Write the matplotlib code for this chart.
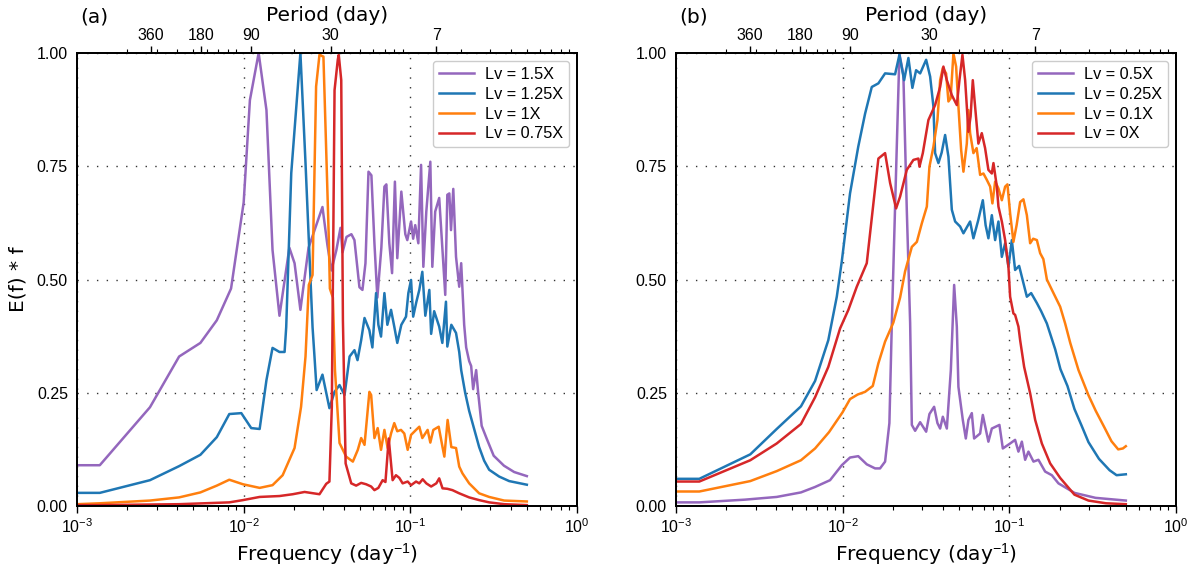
#!/usr/bin/env python3
# -*- coding: utf-8 -*-

import numpy as np
import matplotlib
matplotlib.use("Agg")
import matplotlib.pyplot as plt
from matplotlib.ticker import FormatStrFormatter

# ─── 1) Data (read off the spectra) ──────────────────────────────────────────
# panel (a)
freq_a_150 = [0.001, 0.00137, 0.00274, 0.0041, 0.0055, 0.0069, 0.0084, 0.0100, 0.0109, 0.0123,
              0.0137, 0.0149, 0.0164, 0.0188, 0.0202, 0.0219, 0.0245, 0.0297, 0.0318, 0.0336,
              0.0360, 0.0381, 0.0392, 0.0414, 0.0443, 0.0462, 0.0495, 0.0516, 0.0538, 0.0561,
              0.0584, 0.0609, 0.0634, 0.0670, 0.0699, 0.0718, 0.0748, 0.0777, 0.0808, 0.0835,
              0.0883, 0.0933, 0.0959, 0.101, 0.104, 0.107, 0.1117, 0.116, 0.1197, 0.1247,
              0.1318, 0.1355, 0.141, 0.149, 0.1556, 0.162, 0.1667, 0.1714, 0.1754, 0.181,
              0.188, 0.1965, 0.2019, 0.2104, 0.2163, 0.2254, 0.2317, 0.2382, 0.2483, 0.2553,
              0.2679, 0.2877, 0.3163, 0.3645, 0.4198, 0.5]
ef_a_150 = [0.09, 0.09, 0.218, 0.33, 0.36, 0.41, 0.48, 0.67, 0.896, 1.0,
            0.874, 0.565, 0.42, 0.57, 0.536, 0.433, 0.57, 0.66, 0.576, 0.52,
            0.565, 0.614, 0.56, 0.594, 0.60, 0.587, 0.483, 0.477, 0.536, 0.738,
            0.73, 0.58, 0.46, 0.57, 0.705, 0.71, 0.58, 0.514, 0.716, 0.547,
            0.694, 0.60, 0.587, 0.628, 0.59, 0.62, 0.58, 0.753, 0.528, 0.65,
            0.76, 0.528, 0.65, 0.68, 0.57, 0.466, 0.687, 0.69, 0.609, 0.70,
            0.55, 0.484, 0.536, 0.40, 0.35, 0.32, 0.309, 0.258, 0.30, 0.25,
            0.177, 0.148, 0.111, 0.089, 0.075, 0.066]

freq_a_125 = [0.001, 0.00137, 0.00274, 0.0041, 0.0055, 0.0069, 0.0082, 0.00968, 0.0111, 0.01247,
              0.0137, 0.0149, 0.0164, 0.0176, 0.0180, 0.0193, 0.0219, 0.0235, 0.0259, 0.0266,
              0.0274, 0.0297, 0.0327, 0.0351, 0.0376, 0.0403, 0.0432, 0.0462, 0.0482, 0.0507,
              0.0531, 0.0568, 0.0592, 0.0623, 0.0643, 0.0667, 0.0699, 0.0728, 0.0766, 0.0801,
              0.0835, 0.0883, 0.0942, 0.0973, 0.101, 0.104, 0.1086, 0.1132, 0.118, 0.123,
              0.130, 0.1333, 0.139, 0.149, 0.1556, 0.1636, 0.1667, 0.1762, 0.188, 0.1965,
              0.2019, 0.2133, 0.2254, 0.2415, 0.2588, 0.2773, 0.2972, 0.3412, 0.3917, 0.5]
ef_a_125 = [0.029, 0.029, 0.057, 0.088, 0.113, 0.152, 0.203, 0.205, 0.172, 0.17,
            0.278, 0.349, 0.34, 0.34, 0.395, 0.735, 1.0, 0.757, 0.395, 0.33,
            0.256, 0.29, 0.216, 0.252, 0.267, 0.245, 0.33, 0.344, 0.322, 0.366,
            0.415, 0.388, 0.35, 0.47, 0.40, 0.374, 0.47, 0.40, 0.433, 0.396,
            0.36, 0.40, 0.418, 0.47, 0.499, 0.418, 0.45, 0.477, 0.517, 0.42,
            0.477, 0.38, 0.43, 0.396, 0.36, 0.451, 0.352, 0.40, 0.382, 0.34,
            0.30, 0.25, 0.21, 0.17, 0.13, 0.10, 0.08, 0.065, 0.055, 0.047]

freq_a_100 = [0.001, 0.00137, 0.00274, 0.0041, 0.0055, 0.0069, 0.0082, 0.0099, 0.01247, 0.0149,
              0.01714, 0.0202, 0.0221, 0.0235, 0.0246, 0.0259, 0.0272, 0.0285, 0.0301, 0.0324,
              0.0329, 0.0343, 0.0353, 0.0376, 0.0412, 0.0452, 0.0484, 0.0507, 0.0531, 0.0568,
              0.0582, 0.0609, 0.0637, 0.0667, 0.0699, 0.0731, 0.0766, 0.0801, 0.0835, 0.0879,
              0.092, 0.0964, 0.101, 0.1082, 0.1132, 0.118, 0.127, 0.1318, 0.1374, 0.148,
              0.156, 0.160, 0.1674, 0.1762, 0.188, 0.1965, 0.2055, 0.2254, 0.2588, 0.2972,
              0.3656, 0.5]
ef_a_100 = [0.004, 0.006, 0.012, 0.019, 0.03, 0.045, 0.058, 0.048, 0.04, 0.046,
            0.068, 0.128, 0.219, 0.33, 0.488, 0.51, 0.926, 0.996, 0.992, 0.594,
            0.48, 0.46, 0.30, 0.139, 0.109, 0.098, 0.124, 0.15, 0.135, 0.252,
            0.245, 0.15, 0.172, 0.124, 0.168, 0.128, 0.16, 0.183, 0.165, 0.168,
            0.16, 0.124, 0.157, 0.168, 0.175, 0.15, 0.168, 0.14, 0.168, 0.175,
            0.13, 0.109, 0.19, 0.13, 0.128, 0.087, 0.072, 0.05, 0.028, 0.02,
            0.012, 0.01]

freq_a_075 = [0.001, 0.00137, 0.0041, 0.0082, 0.0099, 0.01247, 0.0164, 0.0197, 0.0232, 0.0285,
              0.0313, 0.0327, 0.0338, 0.0351, 0.0367, 0.0372, 0.0385, 0.0394, 0.0409, 0.0442,
              0.0473, 0.0507, 0.0543, 0.0582, 0.0609, 0.0643, 0.0682, 0.0709, 0.0742, 0.0766,
              0.0783, 0.082, 0.0859, 0.0899, 0.0964, 0.101, 0.1082, 0.1132, 0.1186, 0.1247,
              0.1333, 0.1432, 0.149, 0.156, 0.1667, 0.179, 0.1965, 0.2254, 0.2588, 0.2972,
              0.3656, 0.5]
ef_a_075 = [0.002, 0.002, 0.004, 0.008, 0.013, 0.02, 0.022, 0.026, 0.031, 0.026,
            0.049, 0.054, 0.219, 0.918, 0.985, 0.996, 0.94, 0.41, 0.094, 0.05,
            0.045, 0.051, 0.048, 0.043, 0.035, 0.04, 0.057, 0.053, 0.149, 0.094,
            0.057, 0.068, 0.062, 0.05, 0.054, 0.046, 0.054, 0.05, 0.059, 0.05,
            0.043, 0.05, 0.061, 0.039, 0.038, 0.035, 0.028, 0.019, 0.013, 0.008,
            0.004, 0.002]

# panel (b)
freq_b_050 = [0.001, 0.00138, 0.00259, 0.00402, 0.00562, 0.00683, 0.0084, 0.00988, 0.01107, 0.0124,
              0.01395, 0.01565, 0.01676, 0.01797, 0.01907, 0.0197, 0.02063, 0.0219, 0.02313, 0.02425,
              0.0254, 0.026, 0.02721, 0.02916, 0.03169, 0.03316, 0.03538, 0.03704, 0.03844, 0.0399,
              0.04217, 0.04457, 0.04665, 0.04841, 0.04949, 0.05258, 0.05481, 0.05682, 0.05955, 0.06148,
              0.06679, 0.06933, 0.07489, 0.07852, 0.0872, 0.0914, 0.1011, 0.1083, 0.1134, 0.1189,
              0.1244, 0.1302, 0.1396, 0.1495, 0.164, 0.1799, 0.1971, 0.2459, 0.3288, 0.5]
ef_b_050 = [0.008, 0.008, 0.014, 0.02, 0.03, 0.042, 0.057, 0.09, 0.107, 0.11,
            0.092, 0.083, 0.083, 0.098, 0.183, 0.396, 0.661, 0.998, 0.952, 0.654,
            0.404, 0.179, 0.166, 0.185, 0.164, 0.203, 0.219, 0.183, 0.171, 0.197,
            0.171, 0.30, 0.488, 0.396, 0.263, 0.19, 0.149, 0.19, 0.205, 0.149,
            0.16, 0.201, 0.142, 0.171, 0.179, 0.127, 0.138, 0.146, 0.12, 0.142,
            0.102, 0.12, 0.098, 0.102, 0.076, 0.068, 0.05, 0.029, 0.018, 0.012]

freq_b_025 = [0.001, 0.00138, 0.00279, 0.00402, 0.00562, 0.00683, 0.0082, 0.00922, 0.00988, 0.01107,
              0.0124, 0.01363, 0.01495, 0.01638, 0.01797, 0.02063, 0.0219, 0.02337, 0.0248, 0.0262,
              0.02758, 0.02916, 0.03169, 0.03348, 0.03503, 0.03586, 0.03754, 0.03925, 0.04118, 0.04311,
              0.04518, 0.0473, 0.05068, 0.05304, 0.05816, 0.06088, 0.06498, 0.06933, 0.07205, 0.07489,
              0.07852, 0.08218, 0.08602, 0.09016, 0.09437, 0.09877, 0.1035, 0.1083, 0.1145, 0.1215,
              0.1274, 0.1352, 0.1463, 0.1552, 0.1679, 0.1884, 0.2026, 0.2232, 0.2459, 0.2709,
              0.2984, 0.3451, 0.3994, 0.44, 0.5]
ef_b_025 = [0.06, 0.06, 0.114, 0.17, 0.22, 0.276, 0.366, 0.462, 0.54, 0.69,
            0.793, 0.866, 0.925, 0.933, 0.955, 0.953, 0.996, 0.94, 0.989, 0.923,
            0.962, 0.955, 0.985, 0.948, 0.882, 0.779, 0.757, 0.78, 0.819, 0.771,
            0.654, 0.628, 0.617, 0.602, 0.628, 0.591, 0.63, 0.675, 0.62, 0.591,
            0.642, 0.587, 0.628, 0.55, 0.58, 0.528, 0.587, 0.521, 0.53, 0.492,
            0.462, 0.47, 0.448, 0.43, 0.403, 0.346, 0.302, 0.265, 0.214, 0.178,
            0.141, 0.104, 0.079, 0.068, 0.07]

freq_b_010 = [0.001, 0.00138, 0.00279, 0.00402, 0.00562, 0.00683, 0.00828, 0.00999, 0.01107, 0.01229,
              0.01363, 0.01516, 0.01638, 0.01797, 0.02015, 0.02211, 0.02369, 0.026, 0.02786, 0.02985,
              0.03199, 0.03316, 0.03503, 0.03704, 0.03844, 0.0399, 0.04175, 0.04311, 0.04444, 0.04619,
              0.04794, 0.04949, 0.05138, 0.05304, 0.05557, 0.05682, 0.05816, 0.06088, 0.06365, 0.06679,
              0.06991, 0.07326, 0.07674, 0.07915, 0.08218, 0.08602, 0.09016, 0.09437, 0.09741, 0.1011,
              0.1058, 0.1106, 0.1161, 0.1215, 0.1274, 0.1333, 0.139, 0.1463, 0.1531, 0.160,
              0.168, 0.184, 0.2018, 0.2162, 0.232, 0.26, 0.298, 0.33, 0.37, 0.41,
              0.45, 0.48, 0.5]
ef_b_010 = [0.032, 0.032, 0.055, 0.077, 0.101, 0.127, 0.163, 0.207, 0.236, 0.246,
            0.252, 0.265, 0.315, 0.363, 0.405, 0.46, 0.518, 0.572, 0.583, 0.624,
            0.661, 0.749, 0.793, 0.852, 0.94, 0.967, 0.955, 0.893, 0.90, 0.999,
            0.97, 0.882, 0.786, 0.738, 0.80, 0.874, 0.823, 0.779, 0.79, 0.731,
            0.734, 0.72, 0.705, 0.668, 0.716, 0.701, 0.675, 0.705, 0.71, 0.646,
            0.583, 0.62, 0.671, 0.677, 0.642, 0.58, 0.59, 0.587, 0.558, 0.545,
            0.50, 0.47, 0.44, 0.403, 0.36, 0.30, 0.245, 0.21, 0.175, 0.143,
            0.125, 0.127, 0.132]

freq_b_000 = [0.001, 0.00138, 0.00279, 0.00402, 0.00562, 0.00683, 0.0082, 0.00965, 0.01082, 0.01215,
              0.01395, 0.01638, 0.01797, 0.01926, 0.02092, 0.02211, 0.02425, 0.02657, 0.02847, 0.0289,
              0.03026, 0.03269, 0.03586, 0.03844, 0.04022, 0.04217, 0.04518, 0.04841, 0.0502, 0.05232,
              0.05431, 0.05682, 0.05856, 0.06036, 0.06231, 0.06521, 0.06835, 0.07154, 0.07489, 0.07852,
              0.0803, 0.08414, 0.08602, 0.09016, 0.09437, 0.09877, 0.1011, 0.1058, 0.1083, 0.1134,
              0.1161, 0.1227, 0.1333, 0.1429, 0.1567, 0.1758, 0.2018, 0.2459, 0.2984, 0.3801,
              0.5]
ef_b_000 = [0.054, 0.054, 0.101, 0.138, 0.181, 0.24, 0.307, 0.392, 0.433, 0.484,
            0.536, 0.767, 0.779, 0.713, 0.657, 0.683, 0.742, 0.764, 0.767, 0.749,
            0.779, 0.852, 0.885, 0.925, 0.97, 0.94, 0.907, 0.885, 0.94, 0.996,
            0.94, 0.826, 0.86, 0.94, 0.882, 0.80, 0.823, 0.79, 0.742, 0.734,
            0.757, 0.705, 0.661, 0.628, 0.587, 0.528, 0.462, 0.425, 0.422, 0.396,
            0.366, 0.307, 0.249, 0.19, 0.138, 0.094, 0.062, 0.025, 0.012, 0.006,
            0.004]

labels_a = ["Lv = 1.5X", "Lv = 1.25X", "Lv = 1X", "Lv = 0.75X"]
labels_b = ["Lv = 0.5X", "Lv = 0.25X", "Lv = 0.1X", "Lv = 0X"]
colors   = ["#9467bd", "#1f77b4", "#ff7f0e", "#d62728"]

period_ticks  = [360, 180, 90, 30, 7]
period_labels = ["360", "180", "90", "30", "7"]

# ─── 2) Style ─────────────────────────────────────────────────────────────────
plt.rcParams.update({
    "font.family": "Liberation Sans",
    "mathtext.fontset": "custom",
    "mathtext.rm": "Liberation Sans",
    "mathtext.it": "Liberation Sans:italic",
    "mathtext.bf": "Liberation Sans:bold",
    "axes.linewidth": 1.3,
})
LABEL_FONT = dict(family="DejaVu Sans", fontsize=14.5)
TICK_SIZE = 11.5


def draw_panel(ax, series, labels, tag, show_ylabel):
    for (f, v), lab, col in zip(series, labels, colors):
        ax.plot(f, v, color=col, lw=1.8, label=lab)

    ax.set_xscale("log")
    ax.set_xlim(1e-3, 1)
    ax.set_ylim(0, 1)
    ax.set_yticks([0, 0.25, 0.5, 0.75, 1.0])
    ax.yaxis.set_major_formatter(FormatStrFormatter("%.2f"))
    ax.grid(True, which="major", linestyle=(0, (1, 6)), color="0.2", lw=1.0)
    ax.set_axisbelow(True)
    ax.tick_params(axis="y", length=0, pad=6.5, labelsize=TICK_SIZE)
    ax.tick_params(axis="x", which="major", length=5, width=1.0, pad=3, labelsize=TICK_SIZE)
    ax.tick_params(axis="x", which="minor", length=3, width=0.8)
    ax.set_xlabel("Frequency (day$^{-1}$)", labelpad=4, **LABEL_FONT)
    if show_ylabel:
        ax.set_ylabel("E(f) * f", labelpad=7, **LABEL_FONT)

    # top axis: period in days
    top = ax.twiny()
    top.set_xscale("log")
    top.set_xlim(ax.get_xlim())
    top.set_xticks([1.0 / p for p in period_ticks])
    top.set_xticklabels(period_labels)
    top.tick_params(axis="x", which="major", length=5, width=1.0, pad=2, labelsize=TICK_SIZE)
    top.tick_params(axis="x", which="minor", length=3, width=0.8)
    top.set_xlabel("Period (day)", labelpad=5, **LABEL_FONT)

    ax.text(0.006, 1.079, tag, transform=ax.transAxes, ha="left", va="center", **LABEL_FONT)

    ax.legend(loc="upper right", fontsize=11.7, frameon=True, fancybox=True,
              edgecolor="0.8", framealpha=1.0, borderpad=0.35, labelspacing=0.3,
              handlelength=2.15, handletextpad=0.7, borderaxespad=0.5)


# ─── 3) Figure ────────────────────────────────────────────────────────────────
fig = plt.figure(figsize=(11.96, 5.72), dpi=100)
ax_a = fig.add_axes([77 / 1196, 66 / 572, 500 / 1196, 453 / 572])
ax_b = fig.add_axes([676 / 1196, 66 / 572, 500 / 1196, 453 / 572])

draw_panel(ax_a, [(freq_a_150, ef_a_150), (freq_a_125, ef_a_125),
                  (freq_a_100, ef_a_100), (freq_a_075, ef_a_075)], labels_a, "(a)", True)
draw_panel(ax_b, [(freq_b_050, ef_b_050), (freq_b_025, ef_b_025),
                  (freq_b_010, ef_b_010), (freq_b_000, ef_b_000)], labels_b, "(b)", False)

fig.savefig("out.png", dpi=100)
